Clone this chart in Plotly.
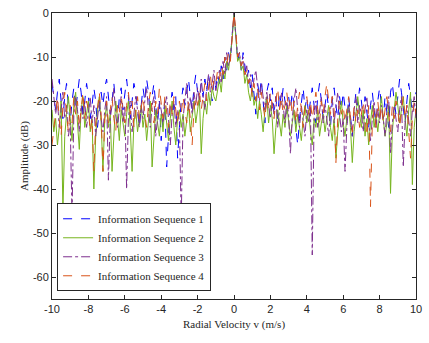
import numpy as np
import plotly.graph_objects as go

x_start, x_stop, n_pts = -10, 10, 201
velocity = np.linspace(x_start, x_stop, n_pts)

seq1 = [
    -16, -19, -22, -18, -15, -20, -24, -19, -16, -21,
    -25, -20, -17, -22, -19, -15, -18, -23, -20, -16,
    -19, -24, -21, -17, -20, -26, -22, -18, -21, -17,
    -15, -19, -23, -20, -16, -21, -25, -19, -17, -22,
    -18, -15, -19, -24, -20, -16, -18, -22, -26, -21,
    -17, -20, -15, -18, -23, -19, -16, -21, -25, -20,
    -29, -24, -20, -35, -27, -21, -18, -22, -19, -33,
    -26, -20, -17, -21, -18, -15, -19, -22, -17, -14,
    -18, -21, -16, -19, -15, -18, -14, -17, -20, -15,
    -17, -14, -16, -12, -15, -10, -13, -9, -11, -5,
    0, -5, -11, -9, -13, -9, -12, -15, -13, -17,
    -14, -18, -23, -16, -19, -15, -21, -25, -18, -16,
    -20, -17, -22, -19, -24, -18, -21, -17, -20, -23,
    -19, -22, -18, -21, -26, -30, -24, -20, -17, -22,
    -19, -23, -20, -17, -21, -25, -19, -16, -20, -24,
    -21, -18, -22, -26, -20, -17, -21, -24, -19, -22,
    -18, -21, -25, -19, -23, -28, -22, -18, -21, -17,
    -20, -24, -19, -22, -26, -21, -18, -22, -25, -20,
    -17, -21, -24, -19, -22, -26, -18, -16, -20, -23,
    -19, -15, -18, -22, -25, -20, -16, -19, -23, -21,
    -18,
]

seq2 = [
    -22, -27, -24, -30, -26, -20, -45, -28, -23, -19,
    -24, -29, -21, -18, -25, -31, -22, -19, -26, -23,
    -20, -27, -24, -40, -28, -22, -19, -25, -36, -24,
    -21, -26, -23, -36, -27, -20, -24, -29, -22, -25,
    -28, -23, -20, -26, -36, -25, -22, -27, -24, -21,
    -26, -23, -29, -25, -20, -35, -27, -22, -25, -28,
    -23, -27, -21, -25, -29, -24, -20, -26, -30, -24,
    -22, -26, -23, -28, -25, -21, -27, -24, -20, -25,
    -22, -19, -32, -24, -20, -23, -18, -21, -17, -19,
    -20, -17, -15, -18, -13, -15, -11, -13, -10, -6,
    0, -6, -11, -10, -13, -12, -16, -14, -18, -20,
    -17, -21, -19, -24, -20, -23, -27, -22, -19, -25,
    -21, -24, -32, -26, -22, -25, -28, -23, -26, -21,
    -24, -28, -25, -22, -27, -23, -26, -29, -24, -21,
    -25, -22, -27, -30, -24, -26, -22, -28, -25, -23,
    -27, -24, -21, -26, -29, -24, -33, -27, -23, -20,
    -25, -28, -24, -21, -26, -34, -27, -22, -19, -23,
    -26, -22, -28, -24, -30, -25, -21, -26, -23, -27,
    -22, -19, -24, -28, -25, -21, -41, -27, -22, -18,
    -21, -25, -22, -19, -24, -28, -22, -18, -39, -26,
    -22,
]

seq3 = [
    -15, -19, -23, -20, -26, -22, -18, -24, -21, -28,
    -25, -46, -23, -19, -22, -27, -21, -24, -20, -26,
    -22, -19, -25, -21, -28, -23, -20, -24, -27, -22,
    -19, -38, -24, -21, -17, -23, -26, -22, -19, -25,
    -21, -40, -24, -20, -27, -23, -19, -22, -26, -21,
    -24, -20, -17, -22, -26, -21, -19, -28, -23, -20,
    -22, -25, -21, -19, -24, -30, -23, -20, -26, -22,
    -25, -47, -24, -20, -16, -22, -19, -23, -18, -21,
    -17, -20, -15, -19, -22, -17, -14, -18, -16, -13,
    -18, -15, -13, -16, -11, -14, -9, -12, -10, -5,
    0, -5, -10, -9, -12, -10, -14, -12, -16, -14,
    -18, -15, -13, -17, -20, -16, -19, -22, -18, -21,
    -24, -20, -23, -19, -26, -22, -18, -21, -25, -20,
    -23, -32, -24, -20, -17, -22, -26, -21, -24, -28,
    -22, -25, -21, -55, -24, -20, -26, -23, -19, -25,
    -21, -24, -28, -22, -19, -25, -21, -18, -23, -27,
    -24, -36, -26, -21, -24, -28, -22, -19, -25, -21,
    -23, -27, -22, -19, -25, -29, -24, -20, -26, -22,
    -25, -21, -24, -28, -22, -19, -32, -25, -21, -24,
    -27, -22, -19, -35, -25, -21, -24, -28, -22, -19,
    -24,
]

seq4 = [
    -30, -26, -22, -19, -24, -28, -21, -18, -23, -27,
    -21, -25, -19, -23, -20, -26, -22, -18, -24, -20,
    -22, -27, -24, -36, -25, -21, -18, -23, -36, -24,
    -20, -25, -22, -19, -24, -27, -21, -23, -19, -22,
    -25, -21, -18, -23, -20, -26, -22, -19, -24, -21,
    -19, -23, -26, -21, -18, -22, -25, -20, -23, -17,
    -21, -24, -19, -22, -26, -20, -23, -19, -22, -25,
    -20, -23, -19, -22, -25, -20, -24, -30, -22, -19,
    -21, -18, -22, -19, -16, -20, -17, -14, -18, -15,
    -16, -13, -15, -12, -14, -10, -12, -9, -11, -5,
    0, -4, -10, -9, -12, -11, -14, -13, -16, -15,
    -19, -16, -20, -17, -22, -18, -21, -24, -19, -22,
    -18, -21, -24, -20, -17, -22, -19, -23, -21, -18,
    -22, -19, -23, -20, -25, -21, -18, -22, -26, -21,
    -19, -23, -20, -24, -21, -18, -22, -25, -20, -23,
    -19, -16, -20, -23, -19, -22, -34, -24, -20, -23,
    -21, -25, -22, -19, -24, -27, -21, -25, -22, -26,
    -23, -20, -24, -28, -21, -44, -25, -22, -26, -20,
    -24, -21, -25, -22, -19, -23, -27, -21, -24, -20,
    -22, -26, -23, -19, -24, -21, -27, -33, -24, -20,
    -23,
]

names = ["Information Sequence 1", "Information Sequence 2",
         "Information Sequence 3", "Information Sequence 4"]
colors = ["#0000FF", "#77B51F", "#7E2F8E", "#D95319"]
dashes = ["dash", "solid", "dashdot", "dash"]
series = [seq1, seq2, seq3, seq4]

x_ticks = [-10, -8, -6, -4, -2, 0, 2, 4, 6, 8, 10]
x_tick_labels = ["-10", "-8", "-6", "-4", "-2", "0", "2", "4", "6", "8", "10"]
y_ticks = [0, -10, -20, -30, -40, -50, -60]
y_tick_labels = ["0", "-10", "-20", "-30", "-40", "-50", "-60"]

SERIF = "'Liberation Serif', 'Times New Roman', Times, 'DejaVu Serif', serif"
SANS = "'Liberation Sans', Arial, Helvetica, sans-serif"

fig = go.Figure()
for name, col, dsh, vals in zip(names, colors, dashes, series):
    fig.add_trace(go.Scatter(
        x=velocity, y=vals, mode="lines", name=name,
        line=dict(color=col, width=1, dash=dsh),
    ))

axis_common = dict(
    showline=True, linecolor="#262626", linewidth=1, mirror="ticks",
    ticks="inside", ticklen=4, tickcolor="#262626", showgrid=False,
    zeroline=False, tickfont=dict(family=SANS, size=11, color="#262626"),
)

fig.update_layout(
    width=429, height=343,
    margin=dict(l=52, r=7, t=7, b=44),
    paper_bgcolor="white", plot_bgcolor="white",
    xaxis=dict(range=[-10, 10], tickvals=x_ticks, ticktext=x_tick_labels,
               title=dict(text="Radial Velocity v (m/s)", standoff=6,
                          font=dict(family=SERIF, size=11, color="#262626")),
               **axis_common),
    yaxis=dict(range=[-65, 0], tickvals=y_ticks, ticktext=y_tick_labels,
               title=dict(text="Amplitude (dB)", standoff=2,
                          font=dict(family=SERIF, size=11, color="#262626")),
               **axis_common),
    legend=dict(x=0.014, y=0.027, xanchor="left", yanchor="bottom",
                bgcolor="white", bordercolor="#262626", borderwidth=1,
                font=dict(family=SERIF, size=11, color="#262626"),
                tracegroupgap=0, itemwidth=30),
    showlegend=True,
)

fig.write_html("out.html")
